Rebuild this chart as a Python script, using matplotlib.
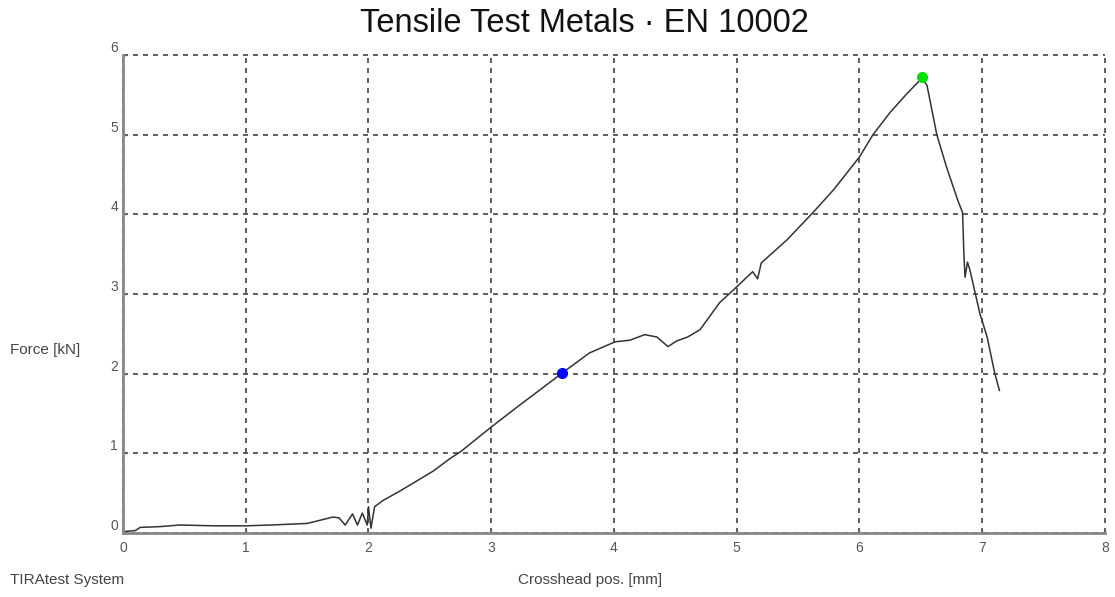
import matplotlib
matplotlib.use('Agg')
import matplotlib.pyplot as plt

# crosshead position [mm] and force [kN]
pos = [0.0, 0.02, 0.1, 0.14, 0.3, 0.46, 0.75, 1.0, 1.2, 1.5, 1.58, 1.71, 1.76, 1.81, 1.87,
       1.91, 1.95, 1.99, 2.0, 2.02, 2.05, 2.12, 2.26, 2.39, 2.53, 2.66, 2.75, 3.0,
       3.21, 3.4, 3.58, 3.8, 4.01, 4.13, 4.25, 4.35, 4.44, 4.51, 4.6, 4.7, 4.86,
       5.0, 5.13, 5.17, 5.2, 5.41, 5.62, 5.79, 6.0, 6.11, 6.25, 6.39, 6.51, 6.55,
       6.63, 6.71, 6.8, 6.84, 6.85, 6.86, 6.88, 6.9, 6.98, 7.04, 7.1, 7.14]
force = [0.0, 0.02, 0.03, 0.07, 0.08, 0.1, 0.09, 0.09, 0.1, 0.12, 0.15, 0.2, 0.19, 0.1, 0.24,
         0.1, 0.25, 0.1, 0.33, 0.06, 0.33, 0.41, 0.53, 0.65, 0.78, 0.93, 1.02, 1.33,
         1.58, 1.8, 2.01, 2.26, 2.40, 2.42, 2.49, 2.46, 2.34, 2.41, 2.46, 2.55, 2.89,
         3.09, 3.28, 3.19, 3.39, 3.68, 4.02, 4.31, 4.72, 5.0, 5.28, 5.52, 5.71, 5.62,
         5.0, 4.59, 4.18, 4.02, 3.53, 3.21, 3.4, 3.3, 2.76, 2.46, 2.02, 1.79]

# marked points: blue = 2 kN level, green = max force
mark_pos = [3.58, 6.51]
mark_force = [2.01, 5.72]
mark_colors = ['#0000ff', '#00e000']

x_ticks = [0, 1, 2, 3, 4, 5, 6, 7, 8]
y_ticks = [0, 1, 2, 3, 4, 5, 6]

plt.rcParams['font.family'] = ['Liberation Sans', 'DejaVu Sans']

fig = plt.figure(figsize=(11.15, 5.97), dpi=100)
ax = fig.add_axes([0.1103, 0.1072, 0.8807, 0.8007])

ax.plot(pos, force, color='#333333', lw=1.1, zorder=3)
for px, fy, c in zip(mark_pos, mark_force, mark_colors):
    ax.plot(px, fy, 'o', color=c, ms=7, mec=c, zorder=4)

ax.set_xlim(0, 8)
ax.set_ylim(0, 6)
ax.set_xticks(x_ticks)
ax.set_yticks(y_ticks)
ax.grid(True, color='#444444', ls=(0, (3, 3)), lw=1.2)
for gl in ax.get_xgridlines() + ax.get_ygridlines():
    gl.set_clip_on(False)
for s in ['top', 'right']:
    ax.spines[s].set_visible(False)
for s in ['left', 'bottom']:
    ax.spines[s].set_color('#888888')
    ax.spines[s].set_linewidth(2)
    ax.spines[s].set_zorder(5)
ax.tick_params(direction='in', length=3, width=1, colors='#666666',
               labelsize=10, labelcolor='#555555')
ax.tick_params(axis='x', pad=6)
for lbl in ax.get_yticklabels():
    lbl.set_verticalalignment('bottom')

fig.text(584 / 1115, 1 - 24 / 597, 'Tensile Test Metals \u00b7 EN 10002', ha='center',
         va='center', fontsize=23.5, color='#111111')
fig.text(10 / 1115, 1 - 350 / 597, 'Force [kN]', ha='left', va='center',
         fontsize=11, color='#444444')
fig.text(10 / 1115, 1 - 580 / 597, 'TIRAtest System', ha='left', va='center',
         fontsize=11, color='#444444')
fig.text(590 / 1115, 1 - 580 / 597, 'Crosshead pos. [mm]', ha='center', va='center',
         fontsize=11, color='#444444')

fig.savefig('out.png', dpi=100)
